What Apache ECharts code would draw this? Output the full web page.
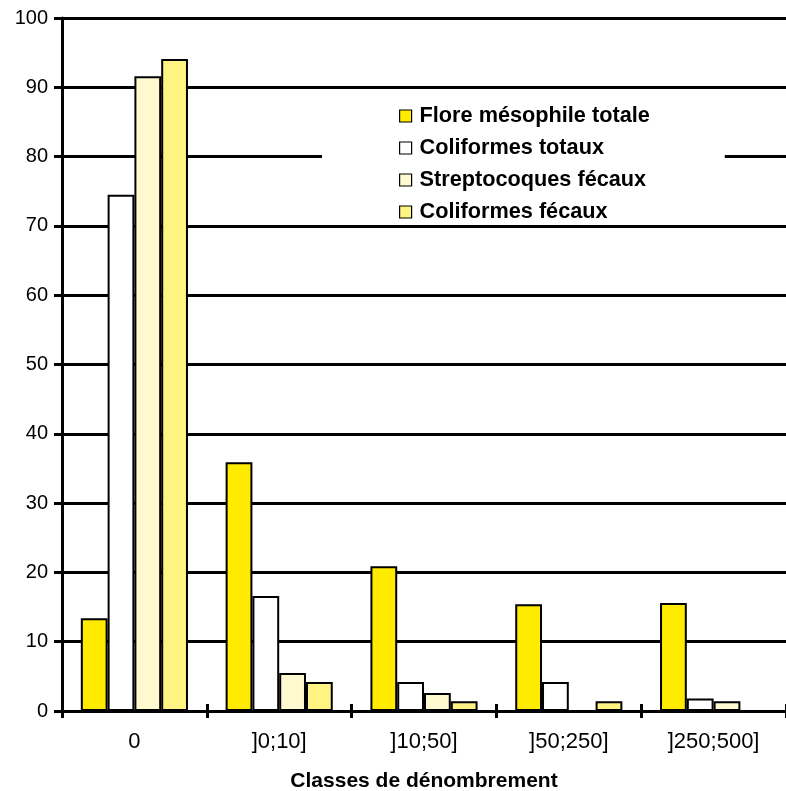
<!DOCTYPE html>
<html>
<head>
<meta charset="utf-8">
<script src="https://cdn.jsdelivr.net/npm/echarts@6/dist/echarts.min.js"></script>
<style>
  html, body { margin: 0; padding: 0; background: #fff; }
  #chart { width: 786px; height: 791px; }
</style>
</head>
<body>
<div id="chart"></div>
<script>
// Counting classes (x categories)
const categories = ['0', ']0;10]', ']10;50]', ']50;250]', ']250;500]'];

// Percentage of samples per class, one array per germ group
const floreMesophile = [13.4, 35.9, 20.9, 15.4, 15.6];
const coliformesTotaux = [74.5, 16.6, 4.2, 4.2, 1.8];
const streptocoques = [91.6, 5.5, 2.6, 0, 1.4];
const coliformesFecaux = [94.1, 4.2, 1.4, 1.4, 0];

const seriesNames = ['Flore mésophile totale', 'Coliformes totaux', 'Streptocoques fécaux', 'Coliformes fécaux'];
const seriesData = [floreMesophile, coliformesTotaux, streptocoques, coliformesFecaux];
const seriesColors = ['#FFEB00', '#FFFFFF', '#FFF9D0', '#FFF381'];

const font = 'Liberation Sans, Arial, sans-serif';

const chart = echarts.init(document.getElementById('chart'));

chart.setOption({
  animation: false,
  backgroundColor: '#fff',
  textStyle: { fontFamily: font },
  grid: { left: 62, right: 0, top: 18, bottom: 80, containLabel: false, outerBoundsMode: 'none' },
  legend: {
    orient: 'vertical',
    left: 322,
    top: 93,
    padding: [12, 75, 0, 77],
    backgroundColor: '#fff',
    icon: 'rect',
    itemWidth: 12,
    itemHeight: 12,
    itemGap: 10,
    itemStyle: { borderColor: '#000', borderWidth: 1.2 },
    textStyle: { fontFamily: font, fontSize: 21.7, fontWeight: 'bold', color: '#000', lineHeight: 20, padding: [0, 0, 0, 3] },
    data: seriesNames
  },
  xAxis: [{
    type: 'category',
    data: categories,
    axisLine: { lineStyle: { color: '#000', width: 3 } },
    axisTick: { show: true, length: 7, lineStyle: { color: '#000', width: 3 } },
    axisLabel: { color: '#000', fontSize: 22, fontFamily: font, margin: 20 },
    name: 'Classes de dénombrement',
    nameLocation: 'middle',
    nameGap: 60,
    nameTextStyle: { color: '#000', fontSize: 21, fontWeight: 'bold', fontFamily: font }
  }, {
    type: 'category',
    data: categories,
    position: 'bottom',
    axisLine: { show: false },
    axisLabel: { show: false },
    axisTick: { show: true, inside: true, length: 7, lineStyle: { color: '#000', width: 3 } }
  }],
  yAxis: {
    type: 'value',
    min: 0,
    max: 100,
    interval: 10,
    axisLine: { show: true, lineStyle: { color: '#000', width: 3 } },
    axisTick: { show: true, length: 8, lineStyle: { color: '#000', width: 3 } },
    axisLabel: { color: '#000', fontSize: 20, fontFamily: font, margin: 14 },
    splitLine: { show: true, lineStyle: { color: '#000', width: 3 } }
  },
  series: seriesNames.map((name, i) => ({
    name: name,
    type: 'bar',
    xAxisIndex: 0,
    data: seriesData[i],
    barGap: 0,
    barCategoryGap: '26%',
    itemStyle: { color: seriesColors[i], borderColor: '#000', borderWidth: 2 }
  }))
});
</script>
</body>
</html>
